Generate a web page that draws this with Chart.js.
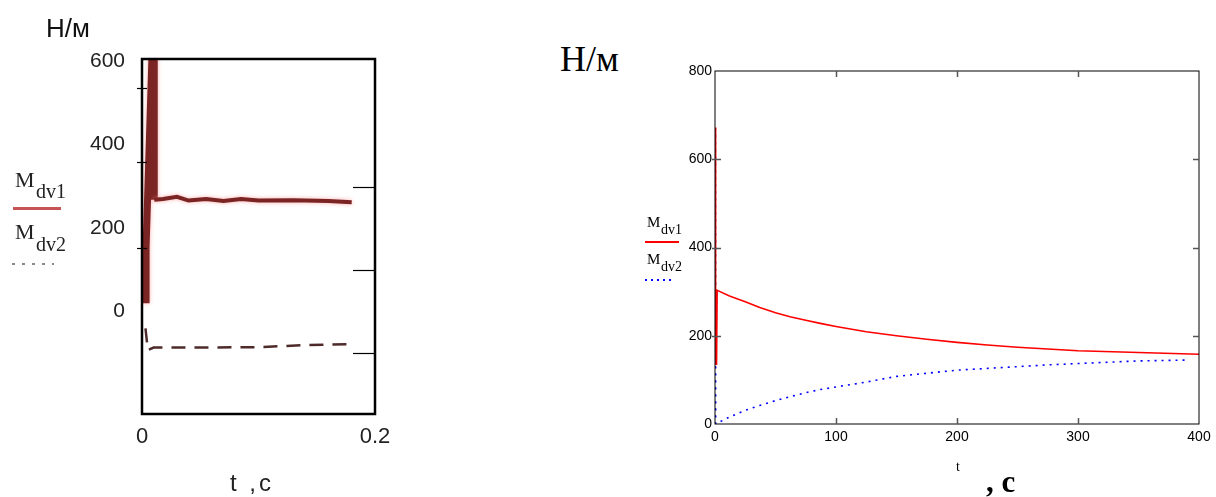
<!DOCTYPE html>
<html><head><meta charset="utf-8">
<script src="https://cdn.jsdelivr.net/npm/chart.js@4.4.0/dist/chart.umd.min.js"></script>
<style>
body{margin:0;background:#fff;}
#page{position:relative;width:1216px;height:497px;overflow:hidden;background:#fff;}
.box{position:absolute;}
.t{position:absolute;white-space:nowrap;color:#000;line-height:1;}
.serif{font-family:"Liberation Serif","DejaVu Serif",serif;}
.sans{font-family:"Liberation Sans",Arial,sans-serif;}
</style></head><body><div id="page">
<div class="box" style="left:0;top:0;width:420px;height:497px"><canvas id="cL"></canvas></div>
<div class="box" style="left:660px;top:50px;width:556px;height:420px"><canvas id="cR"></canvas></div>

<!-- left panel texts -->
<div class="t sans" style="left:46px;top:15px;font-size:26px;color:#111">Н/м</div>
<div class="t serif" style="left:15px;top:169px;font-size:22px;color:#222">M</div>
<div class="t serif" style="left:36px;top:181px;font-size:20px;color:#222">dv1</div>
<div style="position:absolute;left:13px;top:207px;width:48px;height:3px;background:#c65454"></div>
<div class="t serif" style="left:15px;top:221px;font-size:22px;color:#222">M</div>
<div class="t serif" style="left:36px;top:234px;font-size:20px;color:#222">dv2</div>
<div style="position:absolute;left:12px;top:263px;width:42px;height:2px;background:repeating-linear-gradient(90deg,#888 0 3px,transparent 3px 10px)"></div>
<div class="t sans" style="left:230px;top:471px;font-size:24px;letter-spacing:3px;color:#222">t ,с</div>

<!-- right panel texts -->
<div class="t serif" style="left:560px;top:41px;font-size:36px">Н/м</div>
<div class="t serif" style="left:647px;top:215px;font-size:15px">M</div>
<div class="t serif" style="left:661px;top:223px;font-size:14px">dv1</div>
<div style="position:absolute;left:645px;top:241px;width:34px;height:2px;background:#ff0000"></div>
<div class="t serif" style="left:647px;top:252px;font-size:15px">M</div>
<div class="t serif" style="left:661px;top:260px;font-size:14px">dv2</div>
<div style="position:absolute;left:645px;top:279px;width:28px;height:2px;background:repeating-linear-gradient(90deg,#0000ff 0 2px,transparent 2px 6px)"></div>
<div class="t serif" style="left:956px;top:460px;font-size:14px">t</div>
<div class="t serif" style="left:986px;top:466px;font-size:31px;font-weight:bold">, с</div>
</div>
<script>
// ---------- Left chart (0 .. 0.2 s) ----------
const leftXTicks = [0, 0.2];
const leftYTicks = [0, 200, 400, 600];
const leftMarksInnerLeft = [153, 359, 535];
const leftMarksInnerRight = [-98, 100, 299];
const leftT1 = [0.0035, 0.0035, 0.009, 0.0105, 0.0105, 0.018, 0.03, 0.04, 0.055, 0.07, 0.085, 0.1, 0.13, 0.16, 0.18];
const leftM1 = [20, 155, 650, 650, 268, 270, 275, 266, 270, 265, 270, 266, 267, 265, 262];
const leftT2 = [0.003, 0.005, 0.01, 0.05, 0.1, 0.14, 0.18];
const leftM2 = [-40, -92, -86, -86, -85, -80, -78];

// ---------- Right chart (0 .. 400 s) ----------
const rightXTicks = [0, 100, 200, 300, 400];
const rightYTicks = [0, 200, 400, 600, 800];
const rightT1 = [0, 0.5, 1, 12, 25, 37, 50, 62, 75, 87, 100, 125, 150, 175, 200, 225, 250, 275, 300, 350, 400];
const rightM1 = [672, 134, 304, 290, 277, 264, 252, 243, 235, 228, 221, 209, 200, 192, 185, 179, 174, 170, 166, 162, 158];
const rightT2 = [0, 0.3, 0.6, 12, 25, 37, 50, 62, 75, 87, 100, 125, 150, 175, 200, 225, 250, 275, 300, 350, 392];
const rightM2 = [0, 676, 0, 16, 31, 42, 53, 62, 71, 78, 84, 95, 108, 115, 122, 126, 130, 134, 137, 143, 145];

const pts = (xs, ys) => xs.map((x, i) => ({x, y: ys[i]}));

const framePlugin = {
  id: 'frame',
  beforeDatasetDraw(chart, args, opts) {
    if (opts.glow && args.index === 0) {
      chart.ctx.save();
      chart.ctx.shadowColor = opts.glow;
      chart.ctx.shadowBlur = 4;
    }
  },
  afterDatasetDraw(chart, args, opts) {
    if (opts.glow && args.index === 0) chart.ctx.restore();
  },
  afterDatasetsDraw(chart, args, opts) {
    const {ctx, chartArea: a, scales} = chart;
    ctx.save();
    ctx.strokeStyle = opts.color; ctx.lineWidth = opts.width;
    ctx.strokeRect(a.left, a.top, a.right - a.left, a.bottom - a.top);
    ctx.strokeStyle = opts.tickColor; ctx.lineWidth = opts.tickWidth;
    (opts.marks || []).forEach(m => {
      const s = scales[m.scale];
      m.values.forEach(v => {
        const p = Math.round(s.getPixelForValue(v)) + 0.5;
        ctx.beginPath();
        if (m.side === 'left') { ctx.moveTo(a.left - m.outer, p); ctx.lineTo(a.left + m.inner, p); }
        if (m.side === 'right') { ctx.moveTo(a.right - m.inner, p); ctx.lineTo(a.right + m.outer, p); }
        if (m.side === 'top') { ctx.moveTo(p, a.top - m.outer); ctx.lineTo(p, a.top + m.inner); }
        if (m.side === 'bottom') { ctx.moveTo(p, a.bottom - m.inner); ctx.lineTo(p, a.bottom + m.outer); }
        ctx.stroke();
      });
    });
    ctx.restore();
  }
};

new Chart(document.getElementById('cL'), {
  type: 'line',
  data: { datasets: [
    { label: 'Mdv1', data: pts(leftT1, leftM1), borderColor: '#7a2424', borderWidth: 4, pointRadius: 0, tension: 0,
      segment: { borderWidth: c => (c.p0DataIndex < 4 ? 7 : 4) } },
    { label: 'Mdv2', data: pts(leftT2, leftM2), borderColor: '#4e2a2a', borderWidth: 2.5, borderDash: [14, 9], pointRadius: 0, tension: 0 }
  ]},
  options: {
    responsive: true, maintainAspectRatio: false, animation: false,
    layout: { padding: { top: 59, right: 45, left: 0, bottom: 0 } },
    plugins: { legend: { display: false }, tooltip: { enabled: false },
      frame: { glow: 'rgba(255,140,140,0.7)', color: '#000', width: 2.5, tickColor: '#000', tickWidth: 1.2, marks: [
        { scale: 'y', side: 'left', values: leftMarksInnerLeft, inner: 5, outer: 5 },
        { scale: 'y', side: 'right', values: leftMarksInnerRight, inner: 22, outer: 0 }
      ]}
    },
    scales: {
      x: { type: 'linear', min: 0, max: 0.2,
        afterBuildTicks: s => { s.ticks = leftXTicks.map(v => ({value: v})); },
        ticks: { font: { family: 'Liberation Sans', size: 22 }, color: '#222', padding: 10, maxRotation: 0, autoSkip: false,
          callback: v => String(v) },
        grid: { display: false, drawTicks: false }, border: { display: false },
        afterFit: s => { s.height = 83; } },
      y: { type: 'linear', min: -245, max: 605,
        afterBuildTicks: s => { s.ticks = leftYTicks.map(v => ({value: v})); },
        ticks: { font: { family: 'Liberation Sans', size: 21 }, color: '#222', padding: 17, autoSkip: false },
        grid: { display: false, drawTicks: false }, border: { display: false },
        afterFit: s => { s.width = 142; } }
    }
  },
  plugins: [framePlugin]
});

new Chart(document.getElementById('cR'), {
  type: 'line',
  data: { datasets: [
    { label: 'Mdv1', data: pts(rightT1, rightM1), borderColor: '#ff0000', borderWidth: 1.6, pointRadius: 0, tension: 0,
      segment: { borderWidth: c => (c.p0DataIndex === 1 ? 3.5 : 1.6) } },
    { label: 'Mdv2', data: pts(rightT2, rightM2), borderColor: '#0000ff', borderWidth: 1.6, borderDash: [2, 5], pointRadius: 0, tension: 0 }
  ]},
  options: {
    responsive: true, maintainAspectRatio: false, animation: false,
    layout: { padding: { top: 21, right: 17, left: 0, bottom: 0 } },
    plugins: { legend: { display: false }, tooltip: { enabled: false },
      frame: { color: '#000', width: 1, tickColor: '#555', tickWidth: 1.5, marks: [
        { scale: 'y', side: 'left', values: [200, 400, 600], inner: 6, outer: 3 },
        { scale: 'y', side: 'right', values: [200, 400, 600], inner: 6, outer: 0 },
        { scale: 'x', side: 'top', values: [100, 200, 300], inner: 6, outer: 0 },
        { scale: 'x', side: 'bottom', values: [100, 200, 300], inner: 6, outer: 0 }
      ]}
    },
    scales: {
      x: { type: 'linear', min: 0, max: 400,
        afterBuildTicks: s => { s.ticks = rightXTicks.map(v => ({value: v})); },
        ticks: { font: { family: 'Liberation Sans', size: 14 }, color: '#000', padding: 5, maxRotation: 0, autoSkip: false },
        grid: { display: false, drawTicks: false }, border: { display: false },
        afterFit: s => { s.height = 46; } },
      y: { type: 'linear', min: 0, max: 800,
        afterBuildTicks: s => { s.ticks = rightYTicks.map(v => ({value: v})); },
        ticks: { font: { family: 'Liberation Sans', size: 14 }, color: '#000', padding: 3, autoSkip: false },
        grid: { display: false, drawTicks: false }, border: { display: false },
        afterFit: s => { s.width = 55; } }
    }
  },
  plugins: [framePlugin]
});
</script>
</body></html>
